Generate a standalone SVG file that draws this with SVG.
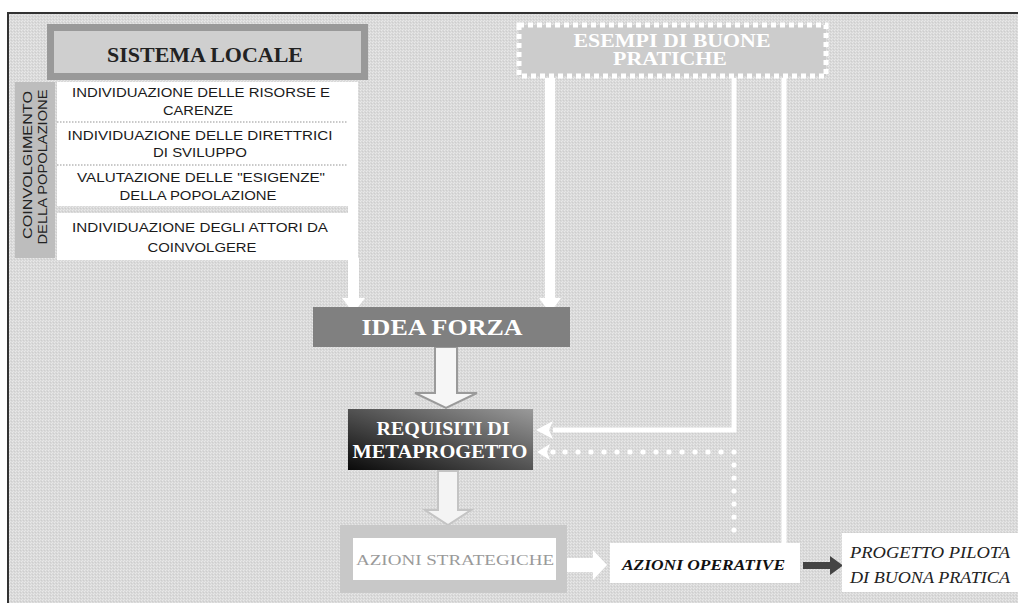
<svg xmlns="http://www.w3.org/2000/svg" width="1018" height="603" viewBox="0 0 1018 603">
<defs>
<pattern id="bgpat" width="3" height="3" patternUnits="userSpaceOnUse">
<rect width="3" height="3" fill="#d9d9d9"/>
<rect x="0" y="0" width="1" height="1" fill="#e9e9e9"/>
<rect x="2" y="1" width="1" height="1" fill="#cdcdcd"/>
<rect x="1" y="2" width="1" height="1" fill="#e6e6e6"/>
</pattern>
<linearGradient id="reqgrad" x1="1" y1="0" x2="0" y2="1">
<stop offset="0" stop-color="#9a9a9a"/>
<stop offset="1" stop-color="#0a0a0a"/>
</linearGradient>
</defs>
<style>
.sans{font-family:"Liberation Sans",Arial,sans-serif;}
.serif{font-family:"Liberation Serif","Times New Roman",serif;}
.list{font-size:12px;fill:#1a1a1a;text-anchor:middle;}
.bold{font-weight:bold;}
.wht{fill:#ffffff;}
.mid{text-anchor:middle;}
.conn{stroke:#ffffff;stroke-width:5;fill:none;}
.dot{fill:#ffffff;}
</style>
<rect width="1018" height="603" fill="#ffffff"/>
<rect x="8" y="13" width="1030" height="620" fill="url(#bgpat)" stroke="#333333" stroke-width="2"/>

<g id="coinvolgimento">
<rect x="15" y="82" width="40" height="176" fill="#bdbdbd"/>
<text class="sans" font-size="12" fill="#222" text-anchor="middle" transform="translate(32,165) rotate(-90)" textLength="148" lengthAdjust="spacingAndGlyphs">COINVOLGIMENTO</text>
<text class="sans" font-size="12" fill="#222" text-anchor="middle" transform="translate(47,167) rotate(-90)" textLength="155" lengthAdjust="spacingAndGlyphs">DELLA POPOLAZIONE</text>
</g>

<g id="sistema-locale">
<rect x="47" y="24" width="321" height="56" fill="#999999"/>
<rect x="54" y="31" width="307" height="42" fill="#cfcfcf"/>
<text class="serif bold mid" x="205" y="62" font-size="20" fill="#222" textLength="196" lengthAdjust="spacingAndGlyphs">SISTEMA LOCALE</text>
</g>

<g id="lista">
<rect x="57" y="82" width="301" height="178" fill="#ffffff"/>
<line x1="57" y1="122" x2="348" y2="122" stroke="#b8b8b8" stroke-width="1.5" stroke-dasharray="1.5 1.5"/>
<line x1="57" y1="165" x2="348" y2="165" stroke="#b8b8b8" stroke-width="1.5" stroke-dasharray="1.5 1.5"/>
<rect x="57" y="206" width="291" height="7" fill="url(#bgpat)"/>
<rect x="348" y="82" width="10" height="178" fill="#ffffff"/>
<text class="sans list" x="201" y="97" textLength="258" lengthAdjust="spacingAndGlyphs">INDIVIDUAZIONE DELLE RISORSE E</text>
<text class="sans list" x="198" y="115" textLength="70" lengthAdjust="spacingAndGlyphs">CARENZE</text>
<text class="sans list" x="200" y="140" textLength="265" lengthAdjust="spacingAndGlyphs">INDIVIDUAZIONE DELLE DIRETTRICI</text>
<text class="sans list" x="200" y="157" textLength="94" lengthAdjust="spacingAndGlyphs">DI SVILUPPO</text>
<text class="sans list" x="201" y="182" textLength="248" lengthAdjust="spacingAndGlyphs">VALUTAZIONE DELLE "ESIGENZE"</text>
<text class="sans list" x="198" y="200" textLength="157" lengthAdjust="spacingAndGlyphs">DELLA POPOLAZIONE</text>
<text class="sans list" x="200" y="232" textLength="256" lengthAdjust="spacingAndGlyphs">INDIVIDUAZIONE DEGLI ATTORI DA</text>
<text class="sans list" x="202" y="252" textLength="109" lengthAdjust="spacingAndGlyphs">COINVOLGERE</text>
</g>

<g id="esempi">
<rect x="519" y="25" width="307" height="51" fill="#cccccc" stroke="#ffffff" stroke-width="5" stroke-dasharray="5 4"/>
<text class="serif bold mid wht" x="672" y="47" font-size="18" textLength="197" lengthAdjust="spacingAndGlyphs">ESEMPI DI BUONE</text>
<text class="serif bold mid wht" x="670" y="65" font-size="18" textLength="114" lengthAdjust="spacingAndGlyphs">PRATICHE</text>
</g>

<g id="connettori">
<rect x="348" y="258" width="11" height="41" fill="#ffffff"/>
<polygon points="342,298 365,298 353.5,313" fill="#ffffff"/>
<rect x="545" y="78" width="10" height="221" fill="#ffffff"/>
<polygon points="539,298 561,298 550,313" fill="#ffffff"/>
<polyline class="conn" points="734,78 734,430 553,430"/>
<polygon points="536,430 553,421 549,430 553,439" fill="#ffffff"/>
<line class="conn" x1="784" y1="78" x2="784" y2="545"/>
<g class="dot">
<circle cx="734" cy="452" r="2.6"/><circle cx="721" cy="452" r="2.6"/><circle cx="708" cy="452" r="2.6"/><circle cx="695" cy="452" r="2.6"/><circle cx="682" cy="452" r="2.6"/><circle cx="669" cy="452" r="2.6"/><circle cx="656" cy="452" r="2.6"/><circle cx="643" cy="452" r="2.6"/><circle cx="630" cy="452" r="2.6"/><circle cx="617" cy="452" r="2.6"/><circle cx="604" cy="452" r="2.6"/><circle cx="591" cy="452" r="2.6"/><circle cx="578" cy="452" r="2.6"/><circle cx="565" cy="452" r="2.6"/><circle cx="553" cy="452" r="2.6"/>
<circle cx="734" cy="465" r="2.6"/><circle cx="734" cy="478" r="2.6"/><circle cx="734" cy="491" r="2.6"/><circle cx="734" cy="504" r="2.6"/><circle cx="734" cy="517" r="2.6"/><circle cx="734" cy="530" r="2.6"/>
</g>
<polygon points="537,452 550,444 547,452 550,460" fill="#ffffff"/>
<polygon points="435,347 457,347 457,393 477,393 446,408 415,393 435,393" fill="#f6f6f6" stroke="#9a9a9a" stroke-width="2"/>
<polygon points="438,471 458,471 458,510 471,510 448,525 425,510 438,510" fill="#f4f4f4" stroke="#c4c4c4" stroke-width="2"/>
<polygon points="567,558 593,558 593,550 607,565 593,580 593,572 567,572" fill="#ffffff"/>
<polygon points="803,562 830,562 830,556 843,565.5 830,575 830,569 803,569" fill="#444444"/>
</g>

<g id="idea-forza">
<rect x="313" y="307" width="257" height="40" fill="#808080"/>
<text class="serif bold mid wht" x="442" y="335" font-size="24" textLength="161" lengthAdjust="spacingAndGlyphs">IDEA FORZA</text>
</g>

<g id="requisiti">
<rect x="348" y="409" width="185" height="61" fill="url(#reqgrad)"/>
<text class="serif bold mid wht" x="443" y="435" font-size="18" textLength="133" lengthAdjust="spacingAndGlyphs">REQUISITI DI</text>
<text class="serif bold mid wht" x="440" y="458" font-size="18" textLength="175" lengthAdjust="spacingAndGlyphs">METAPROGETTO</text>
</g>

<g id="azioni-strategiche">
<rect x="340" y="525" width="227" height="68" fill="#c8c8c8"/>
<rect x="353" y="538" width="203" height="42" fill="#ffffff"/>
<text class="serif mid" x="455" y="565" font-size="15" fill="#9a9a9a" textLength="198" lengthAdjust="spacingAndGlyphs">AZIONI STRATEGICHE</text>
</g>

<g id="azioni-operative">
<rect x="610" y="543" width="190" height="40" fill="#ffffff"/>
<text class="serif bold" x="622" y="570" font-size="14" font-style="italic" fill="#111" textLength="163" lengthAdjust="spacingAndGlyphs">AZIONI OPERATIVE</text>
</g>

<g id="progetto-pilota">
<rect x="842" y="533" width="180" height="59" fill="#ffffff"/>
<text class="serif" x="850" y="558" font-size="16" font-style="italic" fill="#222" textLength="160" lengthAdjust="spacingAndGlyphs">PROGETTO PILOTA</text>
<text class="serif" x="850" y="583" font-size="16" font-style="italic" fill="#222" textLength="160" lengthAdjust="spacingAndGlyphs">DI BUONA PRATICA</text>
</g>
</svg>
